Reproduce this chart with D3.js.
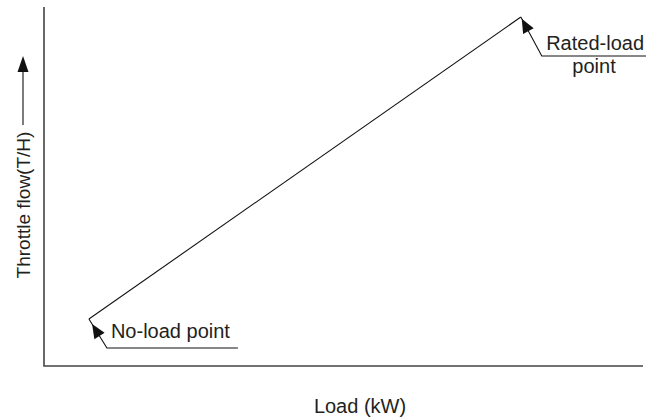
<!DOCTYPE html>
<html><head><meta charset="utf-8">
<script src="https://cdn.jsdelivr.net/npm/d3@7"></script>
<style>body{margin:0;background:#fff}svg{display:block}text{font-family:"Liberation Sans",Arial,sans-serif;fill:#231f20}</style>
</head><body>
<script>
const loads = [7.5, 79.6];
const flows = [13.1, 97.2];
const pointLabels = ["No-load point", "Rated-load point"];
const xTitle = "Load (kW)";
const yTitle = "Throttle flow(T/H)";

const W = 646, H = 419;
const svg = d3.select("body").append("svg").attr("width", W).attr("height", H);
const x = d3.scaleLinear().domain([0, 100]).range([44, 643]);
const y = d3.scaleLinear().domain([0, 100]).range([366, 7]);

function arrowHead(from, vertex, gap, len, hw) {
  const dx = vertex[0]-from[0], dy = vertex[1]-from[1];
  const d = Math.hypot(dx, dy), ux = dx/d, uy = dy/d;
  const tip = [vertex[0]-ux*gap, vertex[1]-uy*gap];
  const base = [tip[0]-ux*len, tip[1]-uy*len];
  const a = [base[0]-uy*hw, base[1]+ux*hw], b = [base[0]+uy*hw, base[1]-ux*hw];
  svg.append("path").attr("d", `M${tip}L${a}L${b}Z`).attr("fill","#111");
}

// axes (L shape)
svg.append("path").attr("d", `M${x(0)},${y(100)} V${y(0)} H${x(100)}`)
  .attr("fill","none").attr("stroke","#444").attr("stroke-width",1.6);

// line
const pts = loads.map((l,i)=>[x(l), y(flows[i])]);
svg.append("path").attr("d", d3.line()(pts)).attr("fill","none").attr("stroke","#111").attr("stroke-width",1.1);

// No-load annotation
const p0 = pts[0];
const f0 = [p0[0]+18, p0[1]+29];
svg.append("path").attr("d", `M${p0[0]+149},${f0[1]} H${f0[0]} L${p0[0]},${p0[1]}`)
  .attr("fill","none").attr("stroke","#111").attr("stroke-width",1.1);
arrowHead(f0, p0, 6, 14, 6);
svg.append("text").attr("x", p0[0]+22).attr("y", p0[1]+19).attr("font-size",20).text(pointLabels[0]);

// Rated-load annotation
const p1 = pts[1];
const f1 = [p1[0]+21, p1[1]+39];
svg.append("path").attr("d", `M${p1[0]+126},${f1[1]} H${f1[0]} L${p1[0]},${p1[1]}`)
  .attr("fill","none").attr("stroke","#111").attr("stroke-width",1.1);
arrowHead(f1, p1, 2, 14, 6);
const words = pointLabels[1].split(" ");
svg.append("text").attr("x", 644).attr("y", p1[1]+33).attr("text-anchor","end").attr("font-size",20).text(words[0]);
svg.append("text").attr("x", 594).attr("y", p1[1]+56).attr("text-anchor","middle").attr("font-size",20).text(words[1]);

// x title
svg.append("text").attr("x", 360).attr("y", 413).attr("text-anchor","middle").attr("font-size",20).text(xTitle);

// y title
svg.append("text").attr("transform","translate(30,205) rotate(-90)").attr("text-anchor","middle").attr("font-size",19).text(yTitle);
svg.append("line").attr("x1",23).attr("x2",23).attr("y1",125).attr("y2",68)
  .attr("stroke","#111").attr("stroke-width",1.1);
svg.append("path").attr("d","M23,56 L17.5,72 L28.5,72 Z").attr("fill","#111");
</script>
</body></html>
